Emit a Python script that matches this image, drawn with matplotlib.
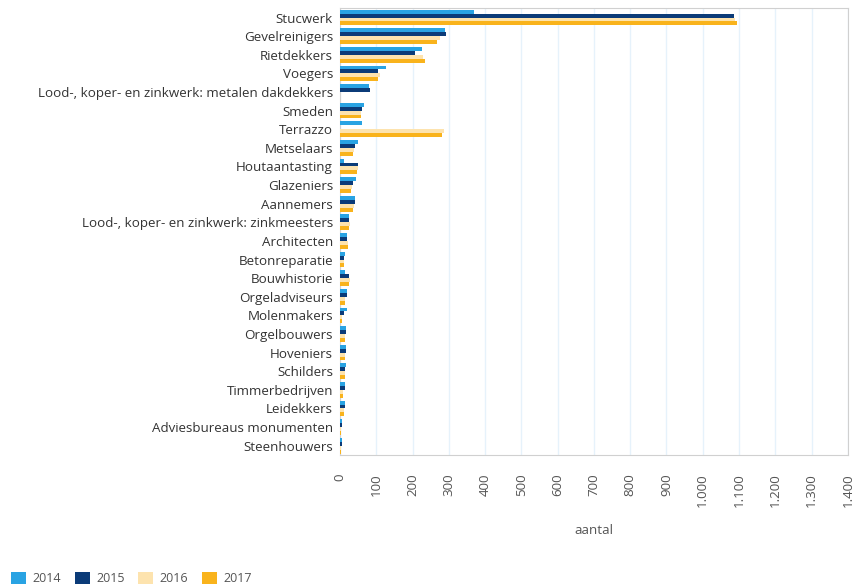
import numpy as np
import matplotlib.pyplot as plt
from matplotlib.ticker import FuncFormatter

plt.rcParams['font.family'] = ['Open Sans', 'DejaVu Sans']

categories = [
    'Stucwerk', 'Gevelreinigers', 'Rietdekkers', 'Voegers',
    'Lood-, koper- en zinkwerk: metalen dakdekkers', 'Smeden', 'Terrazzo',
    'Metselaars', 'Houtaantasting', 'Glazeniers', 'Aannemers',
    'Lood-, koper- en zinkwerk: zinkmeesters', 'Architecten', 'Betonreparatie',
    'Bouwhistorie', 'Orgeladviseurs', 'Molenmakers', 'Orgelbouwers',
    'Hoveniers', 'Schilders', 'Timmerbedrijven', 'Leidekkers',
    'Adviesbureaus monumenten', 'Steenhouwers',
]
years = ['2014', '2015', '2016', '2017']
v2014 = [370, 290, 226, 128, 80, 67, 60, 50, 12, 45, 40, 25, 20, 15, 15, 18, 18, 17, 17, 16, 14, 15, 5, 5]
v2015 = [1085, 292, 207, 104, 82, 60, 0, 42, 50, 35, 40, 25, 20, 12, 25, 18, 10, 17, 17, 14, 14, 15, 5, 5]
v2016 = [1090, 275, 230, 110, 0, 58, 286, 38, 50, 32, 38, 28, 22, 12, 28, 15, 5, 15, 15, 14, 8, 12, 3, 3]
v2017 = [1095, 268, 234, 104, 0, 57, 281, 35, 48, 30, 37, 25, 22, 12, 25, 15, 5, 14, 15, 14, 8, 12, 3, 3]
colors = ['#29a3e3', '#0b3b78', '#fde3ae', '#f9b31c']

fig = plt.figure(figsize=(8.53, 5.86), dpi=100)
ax = fig.add_axes([0.3986, 0.2235, 0.5954, 0.7625])

y = np.arange(len(categories))
h = 0.21
for i, (vals, c, yr) in enumerate(zip([v2014, v2015, v2016, v2017], colors, years)):
    ax.barh(y - 1.5 * h + i * h, vals, height=h, color=c, label=yr, zorder=3)

ax.set_ylim(len(categories) - 0.5, -0.5)
ax.set_xlim(0, 1400)
ax.set_xticks(np.arange(0, 1401, 100))
ax.xaxis.set_major_formatter(FuncFormatter(lambda v, p: f'{int(v):,}'.replace(',', '.')))
ax.set_yticks(y)
ax.set_yticklabels(categories, fontsize=9.6, color='#333333')
ax.tick_params(axis='x', labelrotation=90, labelsize=9.6, labelcolor='#555555', length=0, pad=13)
ax.tick_params(axis='y', length=0, pad=5)
ax.grid(axis='x', color='#e6f2fb', linewidth=1, zorder=0)
for s in ax.spines.values():
    s.set_color('#d0d0d0')
ax.set_xlabel('aantal', fontsize=9.6, color='#555555', labelpad=12)

fig.legend(loc='lower left', bbox_to_anchor=(0.0, -0.018), ncol=4, frameon=False,
           fontsize=9, handlelength=1.2, handleheight=1.2, columnspacing=1.1,
           handletextpad=0.5, labelcolor='#555555')

fig.savefig('out.png', dpi=100)
